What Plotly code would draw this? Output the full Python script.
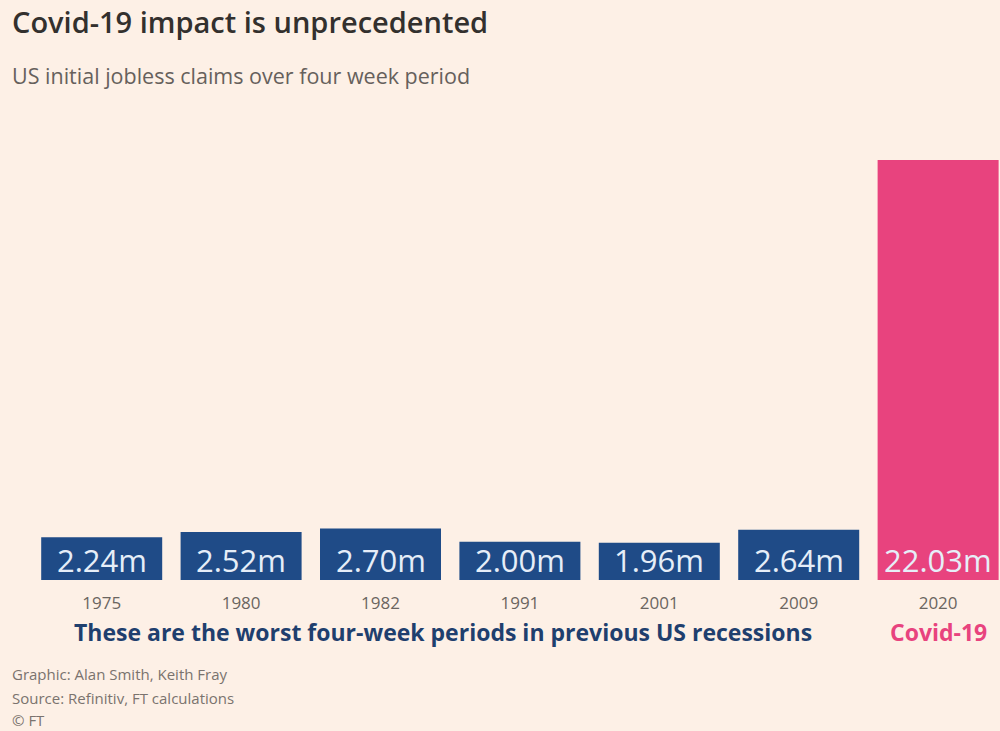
import plotly.graph_objects as go

years = ["1975", "1980", "1982", "1991", "2001", "2009", "2020"]
claims_m = [2.24, 2.52, 2.70, 2.00, 1.96, 2.64, 22.03]
labels = ["2.24m", "2.52m", "2.70m", "2.00m", "1.96m", "2.64m", "22.03m"]

BG = "#fdf0e6"
BLUE = "#1f4b87"
PINK = "#e8437e"
colors = [BLUE] * 6 + [PINK]
FONT = "Open Sans"

idx = list(range(len(years)))

fig = go.Figure()
fig.add_trace(go.Bar(
    x=idx, y=claims_m, marker=dict(color=colors, line=dict(width=0)),
    width=0.868, hoverinfo="skip",
))

fig.update_layout(
    width=1000, height=731,
    paper_bgcolor=BG, plot_bgcolor=BG,
    margin=dict(l=32, r=0, t=100, b=151),
    showlegend=False,
    xaxis=dict(range=[-0.5, 6.444], tickvals=idx, ticktext=years,
               showgrid=False, zeroline=False, showline=False,
               ticks="outside", ticklen=8, tickcolor="rgba(0,0,0,0)",
               tickfont=dict(family=FONT, size=17, color="#6b6560")),
    yaxis=dict(range=[0, 25.18], visible=False, showgrid=False),
    font=dict(family=FONT),
)

def py(p):
    return (731 - p - 151) / 480

LX = (10 - 32) / 968
ann = []
for i, lab in zip(idx, labels):
    ann.append(dict(text=lab, xref="x", yref="y", x=i, y=0,
                    xanchor="center", yanchor="bottom", yshift=-3,
                    font=dict(family=FONT, size=31, color="#e6eef8")))
ann += [
    dict(text="Covid-19 impact is unprecedented", xref="paper", yref="paper",
         x=LX, y=py(22), xanchor="left", yanchor="middle",
         font=dict(family=FONT, size=29, color="#33302e", weight=600)),
    dict(text="US initial jobless claims over four week period", xref="paper", yref="paper",
         x=LX, y=py(75), xanchor="left", yanchor="middle",
         font=dict(family=FONT, size=21.5, color="#66605c")),
    dict(text="<b>These are the worst four-week periods in previous US recessions</b>",
         xref="x", yref="paper", x=2.45, y=py(632), xanchor="center", yanchor="middle",
         font=dict(family=FONT, size=23, color="#1f3f6e")),
    dict(text="<b>Covid-19</b>", xref="x", yref="paper", x=6, y=py(632),
         xanchor="center", yanchor="middle",
         font=dict(family=FONT, size=23, color=PINK)),
    dict(text="Graphic: Alan Smith, Keith Fray", xref="paper", yref="paper",
         x=LX, y=py(674), xanchor="left", yanchor="middle",
         font=dict(family=FONT, size=15, color="#7a736e")),
    dict(text="Source: Refinitiv, FT calculations", xref="paper", yref="paper",
         x=LX, y=py(698), xanchor="left", yanchor="middle",
         font=dict(family=FONT, size=15, color="#7a736e")),
    dict(text="© FT", xref="paper", yref="paper",
         x=LX, y=py(720), xanchor="left", yanchor="middle",
         font=dict(family=FONT, size=15, color="#7a736e")),
]
for a in ann:
    a["showarrow"] = False
fig.update_layout(annotations=ann)

fig.write_html("out.html")
